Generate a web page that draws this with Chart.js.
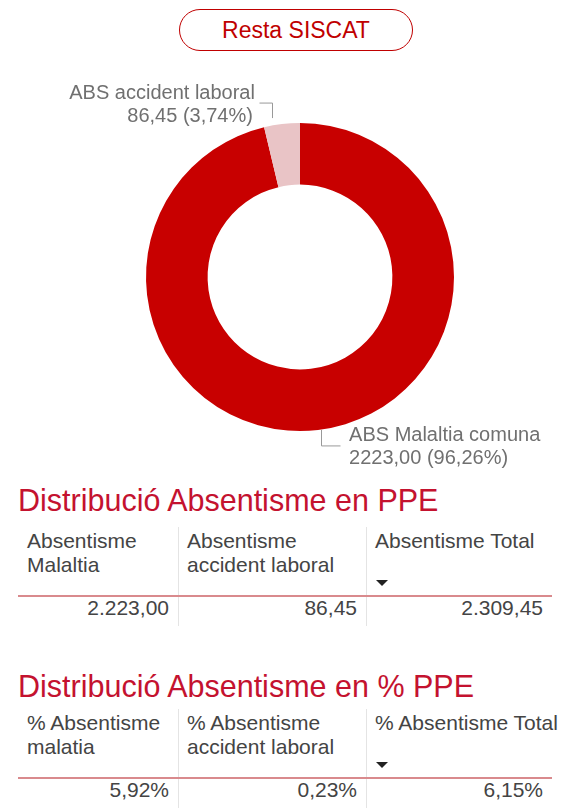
<!DOCTYPE html>
<html>
<head>
<meta charset="utf-8">
<script src="https://cdn.jsdelivr.net/npm/chart.js@4/dist/chart.umd.min.js"></script>
<style>
  html, body { margin: 0; padding: 0; background: #fff; }
  body { width: 567px; height: 808px; position: relative; overflow: hidden;
         font-family: "Liberation Sans", Arial, sans-serif; }
  .btn { position: absolute; left: 179px; top: 9px; width: 232px; height: 40px;
         border: 1.5px solid #c00000; border-radius: 21px; color: #c00000;
         font-size: 23px; line-height: 40px; text-align: center; }
  #chartWrap { position: absolute; left: 0; top: 60px; width: 567px; height: 420px; }
  .title { position: absolute; left: 18px; font-size: 30.5px; color: #c4122f;
           height: 38px; line-height: 38px; white-space: nowrap; }
  .cell { position: absolute; font-size: 21px; line-height: 24px; color: #444; }
  .sep { position: absolute; width: 1px; background: #e4e4e4; }
  .rule { position: absolute; left: 18px; width: 534px; height: 2px; background: #d98a8d; }
  .tri { position: absolute; width: 0; height: 0; border-left: 6px solid transparent;
         border-right: 6px solid transparent; border-top: 6px solid #222; }
</style>
</head>
<body>
<div class="btn">Resta SISCAT</div>
<div id="chartWrap"><canvas id="c" width="567" height="420"></canvas></div>
<div id="tables"></div>
<script>
// ---- data ----
const buttonLabel = "Resta SISCAT";
const sliceLabels = ["ABS Malaltia comuna", "ABS accident laboral"];
const sliceValues = [2223.00, 86.45];
const sliceColors = ["#c80000", "#e9c4c6"];

const table1Title = "Distribució Absentisme en PPE";
const table1Headers = [["Absentisme", "Malaltia"], ["Absentisme", "accident laboral"], ["Absentisme Total", ""]];
const table1Values = ["2.223,00", "86,45", "2.309,45"];

const table2Title = "Distribució Absentisme en % PPE";
const table2Headers = [["% Absentisme", "malatia"], ["% Absentisme", "accident laboral"], ["% Absentisme Total", ""]];
const table2Values = ["5,92%", "0,23%", "6,15%"];

// ---- helpers ----
function fmt(n, d) {
  return n.toFixed(d).replace('.', ',');
}

// ---- tables ----
const colX = [18, 178, 366, 552];
function buildTable(title, headers, values, titleTop, top) {
  const host = document.getElementById('tables');
  const t = document.createElement('div');
  t.className = 'title'; t.style.top = titleTop + 'px'; t.textContent = title;
  host.appendChild(t);
  for (let i = 0; i < 3; i++) {
    const h = document.createElement('div');
    h.className = 'cell';
    h.style.left = (colX[i] + 9) + 'px';
    h.style.top = top + 'px';
    h.style.whiteSpace = 'nowrap';
    h.innerHTML = headers[i][0] + '<br>' + (headers[i][1] || '&nbsp;');
    host.appendChild(h);
    const v = document.createElement('div');
    v.className = 'cell';
    v.style.left = colX[i] + 'px';
    v.style.width = (colX[i + 1] - colX[i] - 9) + 'px';
    v.style.textAlign = 'right';
    v.style.top = (top + 67) + 'px';
    v.textContent = values[i];
    host.appendChild(v);
  }
  [1, 2].forEach(i => {
    const s = document.createElement('div');
    s.className = 'sep';
    s.style.left = colX[i] + 'px';
    s.style.top = (top - 2) + 'px';
    s.style.height = '99px';
    host.appendChild(s);
  });
  const tri = document.createElement('div');
  tri.className = 'tri';
  tri.style.left = (colX[2] + 10) + 'px';
  tri.style.top = (top + 51) + 'px';
  host.appendChild(tri);
  const r = document.createElement('div');
  r.className = 'rule';
  r.style.top = (top + 66) + 'px';
  host.appendChild(r);
}
buildTable(table1Title, table1Headers, table1Values, 481, 529);
buildTable(table2Title, table2Headers, table2Values, 667, 711);

// ---- doughnut labels plugin ----
const total = sliceValues.reduce((a, b) => a + b, 0);
const labelPlugin = {
  id: 'sliceLabels',
  afterDraw(chart) {
    const ctx = chart.ctx;
    const meta = chart.getDatasetMeta(0);
    ctx.save();
    ctx.font = '20px "Liberation Sans", Arial, sans-serif';
    ctx.fillStyle = '#707070';
    ctx.strokeStyle = '#999';
    ctx.lineWidth = 1;
    ctx.textBaseline = 'middle';
    meta.data.forEach((arc, i) => {
      const p = arc.getProps(['x', 'y', 'startAngle', 'endAngle', 'outerRadius'], true);
      const mid = (p.startAngle + p.endAngle) / 2;
      const ax = p.x + Math.cos(mid) * p.outerRadius;
      const ay = p.y + Math.sin(mid) * p.outerRadius;
      const v = sliceValues[i];
      const line1 = sliceLabels[i];
      const line2 = fmt(v, 2) + ' (' + fmt(v / total * 100, 2) + '%)';
      ctx.beginPath();
      if (ay < p.y) {
        const lx = Math.round(ax - 10) + 0.5;
        ctx.moveTo(lx, ay - 6);
        ctx.lineTo(lx, ay - 21);
        ctx.lineTo(lx - 13, ay - 21);
        ctx.stroke();
        ctx.textAlign = 'right';
        ctx.fillText(line1, ax - 27, ay - 31);
        ctx.fillText(line2, ax - 29, ay - 8);
      } else {
        const lx = Math.round(ax + 3) + 0.5;
        ctx.moveTo(lx, ay);
        ctx.lineTo(lx, ay + 16);
        ctx.lineTo(lx + 19, ay + 16);
        ctx.stroke();
        ctx.textAlign = 'left';
        ctx.fillText(line1, ax + 31, ay + 6);
        ctx.fillText(line2, ax + 31, ay + 29);
      }
    });
    ctx.restore();
  }
};

new Chart(document.getElementById('c'), {
  type: 'doughnut',
  data: {
    labels: sliceLabels,
    datasets: [{
      data: sliceValues,
      backgroundColor: sliceColors,
      borderWidth: 0
    }]
  },
  options: {
    responsive: false,
    devicePixelRatio: 1,
    animation: false,
    cutout: '60%',
    rotation: 0,
    layout: { padding: { left: 146, right: 113, top: 63, bottom: 49 } },
    plugins: { legend: { display: false }, tooltip: { enabled: false } }
  },
  plugins: [labelPlugin]
});
</script>
</body>
</html>
